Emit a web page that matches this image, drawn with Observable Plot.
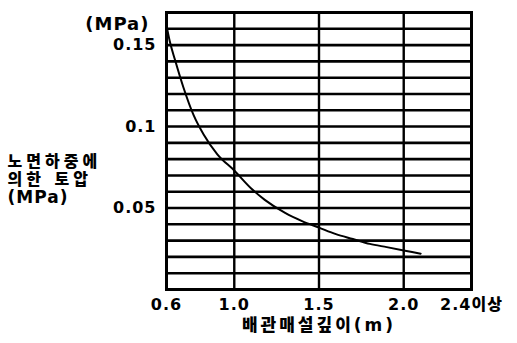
<!DOCTYPE html>
<html>
<head>
<meta charset="utf-8">
<script src="https://cdn.jsdelivr.net/npm/d3@7"></script>
<script src="https://cdn.jsdelivr.net/npm/@observablehq/plot@0.6"></script>
<style>
  html, body { margin: 0; padding: 0; background: #fff; }
  #chart svg { display: block; }
</style>
</head>
<body>
<div id="chart"></div>
<script>
// Depth of pipe burial (m) vs earth pressure due to road-surface load (MPa)
const depth    = [0.6, 0.62, 0.65, 0.7, 0.76, 0.82, 0.9, 1.0, 1.1, 1.18, 1.3, 1.4, 1.5, 1.6, 1.7, 1.8, 1.9, 2.0, 2.1];
const pressure = [0.162, 0.152, 0.141, 0.124, 0.107, 0.095, 0.083, 0.073, 0.062, 0.055, 0.047, 0.042, 0.038, 0.034, 0.031, 0.028, 0.026, 0.024, 0.022];

const xTicks      = [0.6, 1.0, 1.5, 2.0, 2.4];
const xTickLabels = ["0.6", "1.0", "1.5", "2.0", "2.4이상"];
const yTicks      = [0.05, 0.1, 0.15];
const yTickLabels = ["0.05", "0.1", "0.15"];
const xGrid = [1.0, 1.5, 2.0];
const yGrid = [0.01, 0.02, 0.03, 0.04, 0.05, 0.06, 0.07, 0.08, 0.09, 0.10, 0.11, 0.12, 0.13, 0.14, 0.15, 0.16];

const yUnit   = "(MPa)";
const yTitle  = "노면하중에\n의한 토압\n(MPa)";
const xTitle  = "배관매설깊이(m)";

const data = depth.map((d, i) => ({depth: d, pressure: pressure[i]}));
const font = "'DejaVu Sans', 'Noto Sans CJK KR', sans-serif";

const chart = Plot.plot({
  width: 517,
  height: 343,
  marginLeft: 166,
  marginRight: 46,
  marginTop: 12,
  marginBottom: 54,
  style: {fontFamily: font, fontWeight: "900", color: "#000", background: "#fff"},
  x: {domain: [0.6, 2.4]},
  y: {domain: [0, 0.17]},
  marks: [
    Plot.ruleY(yGrid, {stroke: "#000", strokeWidth: 2.6}),
    Plot.ruleX(xGrid, {stroke: "#000", strokeWidth: 2.4}),
    Plot.frame({stroke: "#000", strokeWidth: 3}),
    Plot.line(data, {x: "depth", y: "pressure", stroke: "#000", strokeWidth: 2, curve: "monotone-x"}),
    Plot.axisX({ticks: xTicks, tickFormat: (d) => xTickLabels[xTicks.indexOf(d)], tickSize: 0, tickPadding: 9, label: null, fontSize: 16, fontWeight: "900"}),
    Plot.axisY({ticks: yTicks, tickFormat: (d) => yTickLabels[yTicks.indexOf(d)], tickSize: 0, tickPadding: 10, label: null, fontSize: 16, fontWeight: "900"}),
    Plot.text([yUnit], {frameAnchor: "top-left", textAnchor: "end", dx: -17, dy: 5, fontSize: 18, fontWeight: "900"}),
    Plot.text([yTitle], {frameAnchor: "left", textAnchor: "start", dx: -159, dy: 28, fontSize: 16, lineHeight: 1.1, fontWeight: "900"}),
    Plot.text([xTitle], {frameAnchor: "bottom", dx: 0, dy: 41, fontSize: 17, fontWeight: "900"})
  ]
});

// letter spacing to mimic the wide scanned lettering
d3.select(chart).selectAll("text").each(function () {
  const t = this.textContent;
  const sel = d3.select(this);
  if (t.startsWith("노면")) {
    sel.selectAll("tspan").each(function () {
      const ts = d3.select(this);
      if (this.textContent.startsWith("(")) ts.attr("letter-spacing", "1px").attr("font-size", 17);
      else ts.attr("letter-spacing", "4px");
    });
  } else if (t === xTitle) {
    sel.attr("letter-spacing", "3px");
  } else {
    sel.attr("letter-spacing", "1px");
  }
});
document.getElementById("chart").appendChild(chart);
</script>
</body>
</html>
